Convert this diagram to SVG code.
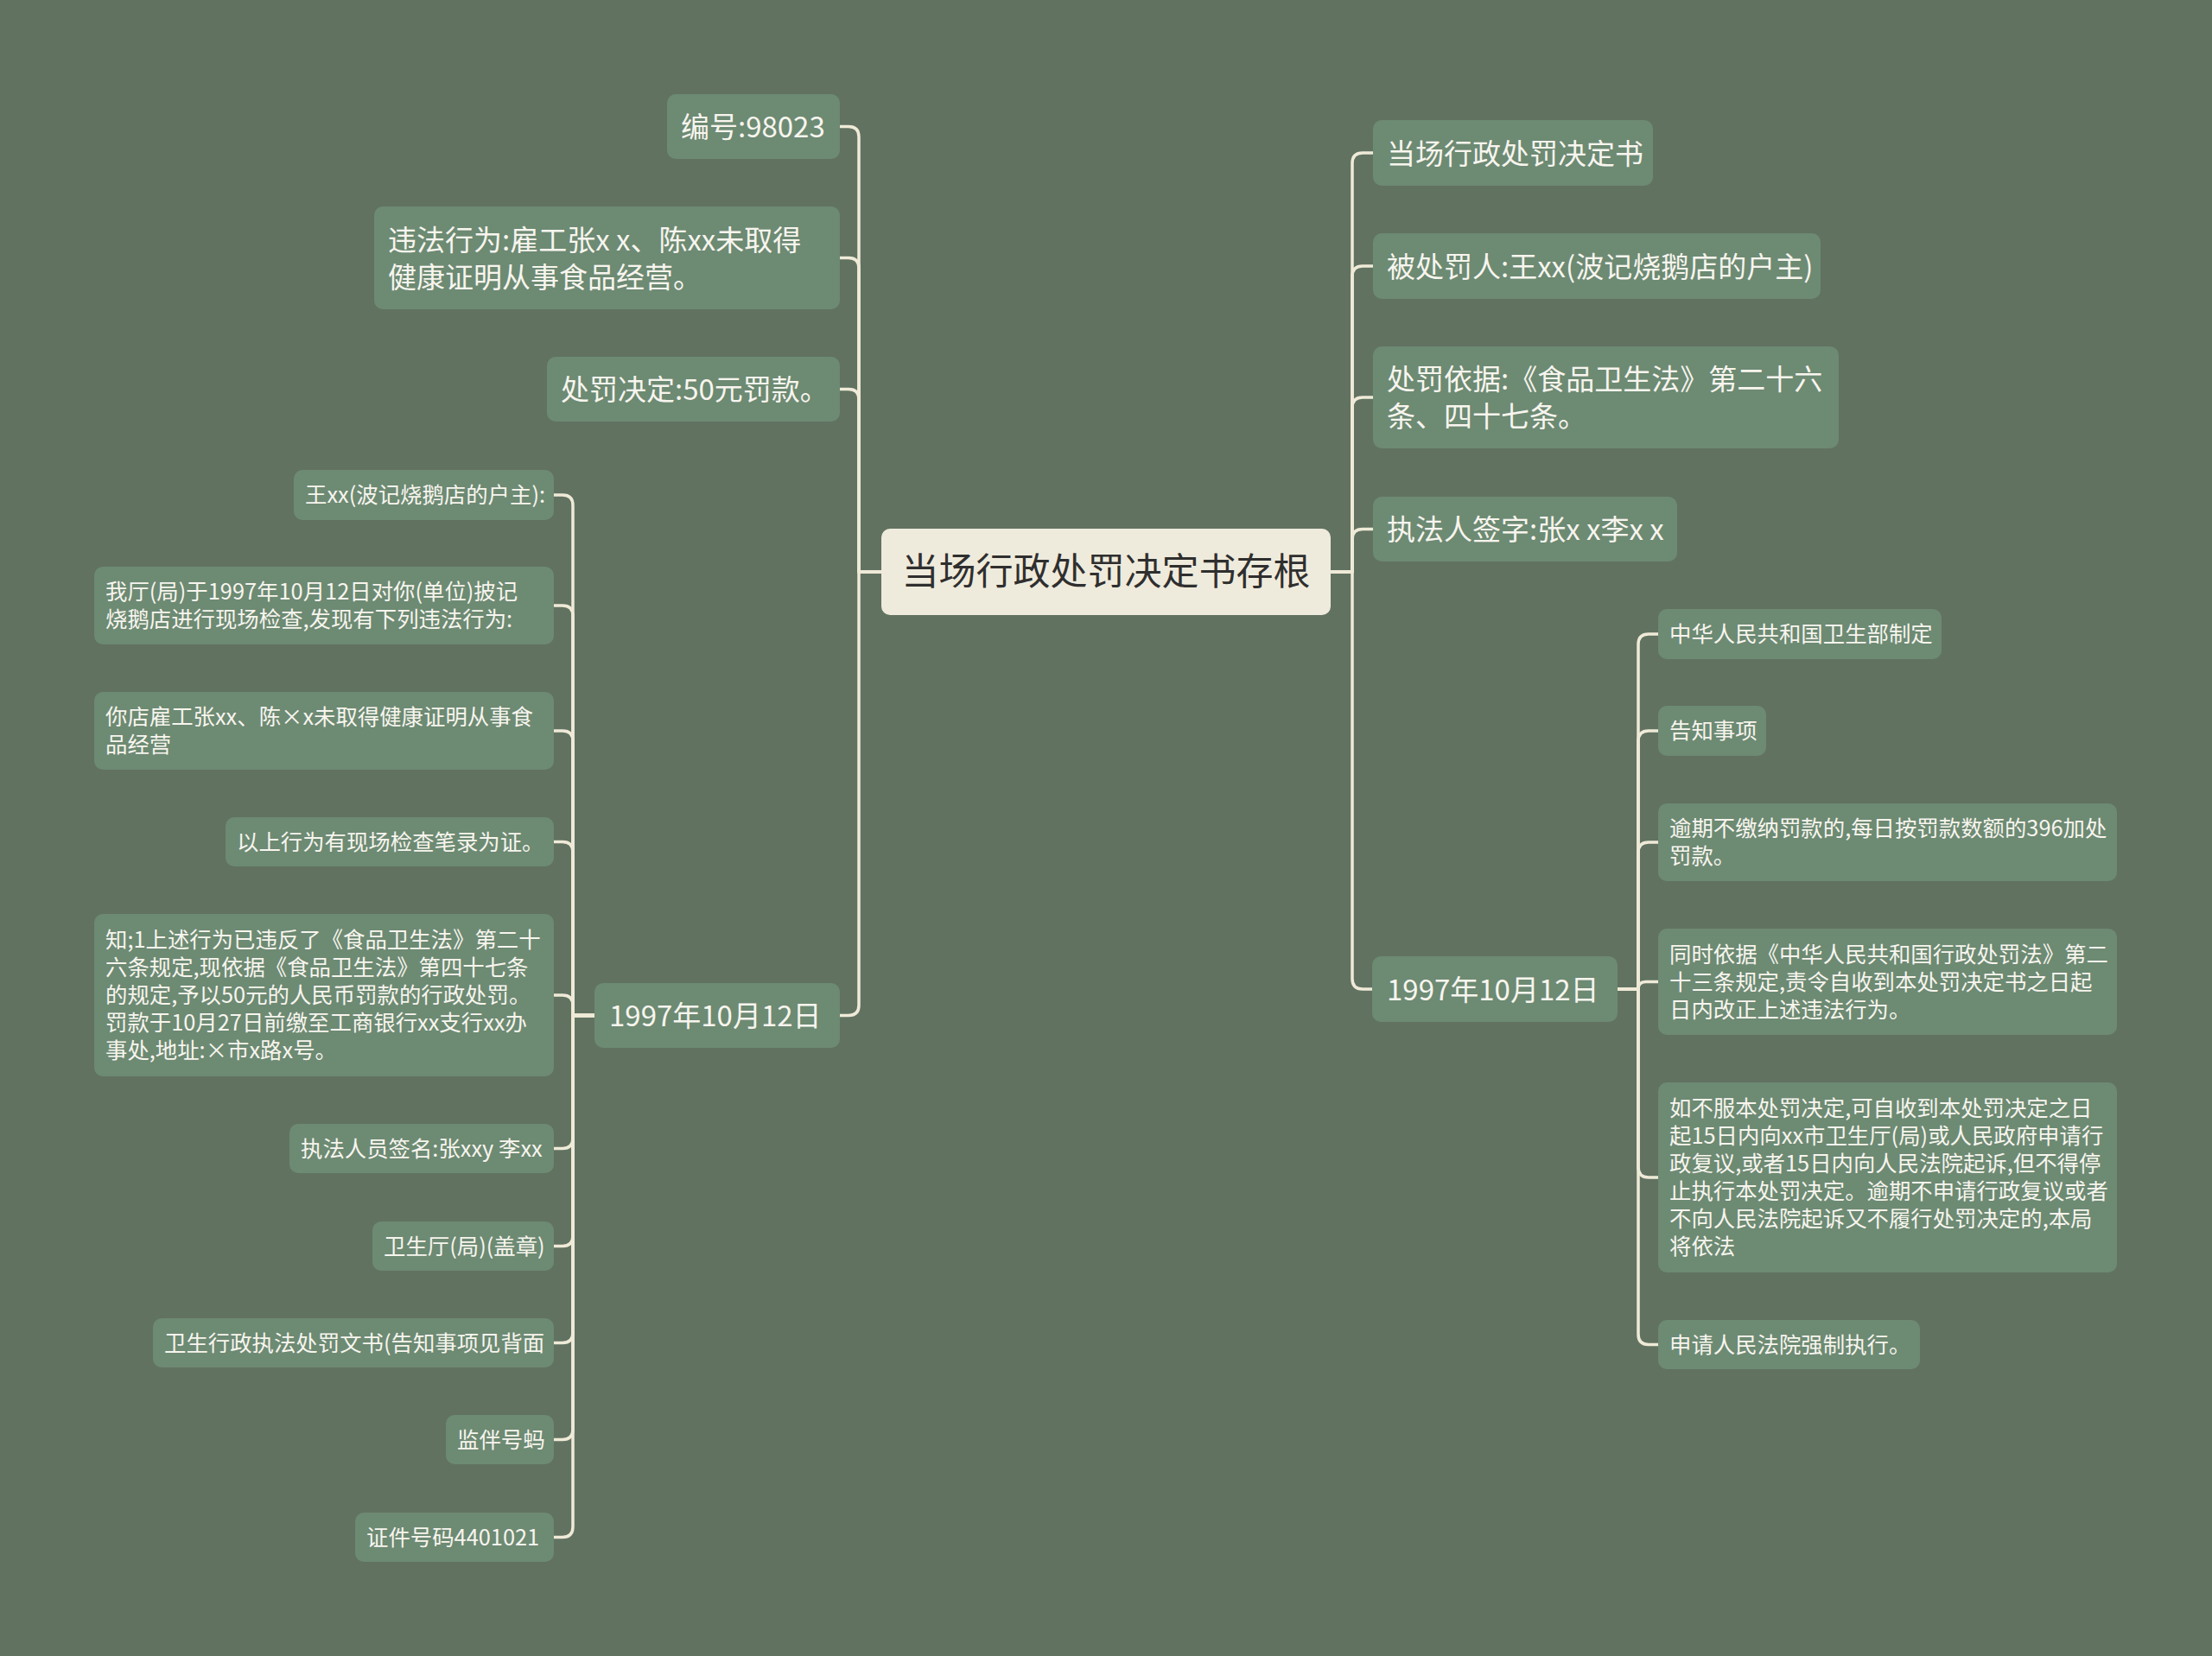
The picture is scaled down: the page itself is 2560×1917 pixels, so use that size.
<svg xmlns="http://www.w3.org/2000/svg" width="2560" height="1917" viewBox="0 0 2560 1917">
<style>
.bg{fill:#617261}
.n{fill:#6d8a73}
.c{fill:#efebdc}
.e{fill:none;stroke:#efead7;stroke-width:3.5;stroke-linejoin:round;stroke-linecap:round}
text{font-family:"Noto Sans CJK SC","Noto Sans",sans-serif;fill:#f7f5ee}
.t1{font-size:33px}
.t2{font-size:25.4px}
.tc{font-size:43px;fill:#2f2f2f;text-anchor:middle}
</style>
<rect class="bg" x="0" y="0" width="2560" height="1917"/>
<g id="connectors">
<path class="e" d="M1020,662 H994 V158.5 Q994,146.5 982,146.5 H972"/>
<path class="e" d="M1020,662 H994 V310.5 Q994,298.5 982,298.5 H972"/>
<path class="e" d="M1020,662 H994 V462.5 Q994,450.5 982,450.5 H972"/>
<path class="e" d="M1020,662 H994 V1163.5 Q994,1175.5 982,1175.5 H972"/>
<path class="e" d="M1540,662 H1565 V189 Q1565,177 1577,177 H1589"/>
<path class="e" d="M1540,662 H1565 V320 Q1565,308 1577,308 H1589"/>
<path class="e" d="M1540,662 H1565 V472 Q1565,460 1577,460 H1589"/>
<path class="e" d="M1540,662 H1565 V624.5 Q1565,612.5 1577,612.5 H1589"/>
<path class="e" d="M1540,662 H1565 V1133 Q1565,1145 1577,1145 H1588"/>
<path class="e" d="M688,1175.5 H663 V585 Q663,573 651,573 H641"/>
<path class="e" d="M688,1175.5 H663 V713 Q663,701 651,701 H641"/>
<path class="e" d="M688,1175.5 H663 V858 Q663,846 651,846 H641"/>
<path class="e" d="M688,1175.5 H663 V986.5 Q663,974.5 651,974.5 H641"/>
<path class="e" d="M688,1175.5 H663 V1164 Q663,1152 651,1152 H641"/>
<path class="e" d="M688,1175.5 H663 V1317.5 Q663,1329.5 651,1329.5 H641"/>
<path class="e" d="M688,1175.5 H663 V1430.5 Q663,1442.5 651,1442.5 H641"/>
<path class="e" d="M688,1175.5 H663 V1542.5 Q663,1554.5 651,1554.5 H641"/>
<path class="e" d="M688,1175.5 H663 V1654.5 Q663,1666.5 651,1666.5 H641"/>
<path class="e" d="M688,1175.5 H663 V1767.5 Q663,1779.5 651,1779.5 H641"/>
<path class="e" d="M1872,1145 H1896 V746 Q1896,734 1908,734 H1919"/>
<path class="e" d="M1872,1145 H1896 V858 Q1896,846 1908,846 H1919"/>
<path class="e" d="M1872,1145 H1896 V987 Q1896,975 1908,975 H1919"/>
<path class="e" d="M1872,1145 H1896 V1145 Q1896,1136.5 1904.5,1136.5 H1919"/>
<path class="e" d="M1872,1145 H1896 V1351 Q1896,1363 1908,1363 H1919"/>
<path class="e" d="M1872,1145 H1896 V1544.5 Q1896,1556.5 1908,1556.5 H1919"/>
</g>
<g id="root"><rect class="c" x="1020" y="612" width="520" height="100" rx="10"/><text class="tc" x="1280" y="677">当场行政处罚决定书存根</text></g>
<g id="l1"><rect class="n" x="772" y="109" width="200" height="75" rx="10"/><text class="t1" x="788" y="159">编号:98023</text></g>
<g id="l2"><rect class="n" x="433" y="239" width="539" height="119" rx="10"/><text class="t1" x="449" y="289.5">违法行为:雇工张x x、陈xx未取得</text><text class="t1" x="449" y="332.5">健康证明从事食品经营。</text></g>
<g id="l3"><rect class="n" x="633" y="413" width="339" height="75" rx="10"/><text class="t1" x="649" y="463">处罚决定:50元罚款。</text></g>
<g id="l4"><rect class="n" x="688" y="1138" width="284" height="75" rx="10"/><text class="t1" x="705" y="1188">1997年10月12日</text></g>
<g id="r1"><rect class="n" x="1589" y="139" width="324" height="76" rx="10"/><text class="t1" x="1605" y="189.5">当场行政处罚决定书</text></g>
<g id="r2"><rect class="n" x="1589" y="270" width="518" height="76" rx="10"/><text class="t1" x="1605" y="320.5">被处罚人:王xx(波记烧鹅店的户主)</text></g>
<g id="r3"><rect class="n" x="1589" y="401" width="539" height="118" rx="10"/><text class="t1" x="1605" y="451">处罚依据:《食品卫生法》第二十六</text><text class="t1" x="1605" y="494">条、四十七条。</text></g>
<g id="r4"><rect class="n" x="1589" y="575" width="352" height="75" rx="10"/><text class="t1" x="1605" y="625">执法人签字:张x x李x x</text></g>
<g id="r5"><rect class="n" x="1588" y="1107" width="284" height="76" rx="10"/><text class="t1" x="1605" y="1157.5">1997年10月12日</text></g>
<g id="la"><rect class="n" x="340" y="544" width="301" height="58" rx="10"/><text class="t2" x="353" y="582">王xx(波记烧鹅店的户主):</text></g>
<g id="lb"><rect class="n" x="109" y="656" width="532" height="90" rx="10"/><text class="t2" x="122" y="694">我厅(局)于1997年10月12日对你(单位)披记</text><text class="t2" x="122" y="726">烧鹅店进行现场检查,发现有下列违法行为:</text></g>
<g id="lc"><rect class="n" x="109" y="801" width="532" height="90" rx="10"/><text class="t2" x="122" y="839">你店雇工张xx、陈×x未取得健康证明从事食</text><text class="t2" x="122" y="871">品经营</text></g>
<g id="ld"><rect class="n" x="261" y="946" width="380" height="57" rx="10"/><text class="t2" x="274" y="983.5">以上行为有现场检查笔录为证。</text></g>
<g id="le"><rect class="n" x="109" y="1058" width="532" height="188" rx="10"/><text class="t2" x="122" y="1097">知;1上述行为已违反了《食品卫生法》第二十</text><text class="t2" x="122" y="1129">六条规定,现依据《食品卫生法》第四十七条</text><text class="t2" x="122" y="1161">的规定,予以50元的人民币罚款的行政处罚。</text><text class="t2" x="122" y="1193">罚款于10月27日前缴至工商银行xx支行xx办</text><text class="t2" x="122" y="1225">事处,地址:×市x路x号。</text></g>
<g id="lf"><rect class="n" x="335" y="1301" width="306" height="57" rx="10"/><text class="t2" x="348" y="1338.5">执法人员签名:张xxy 李xx</text></g>
<g id="lg"><rect class="n" x="431" y="1414" width="210" height="57" rx="10"/><text class="t2" x="444" y="1451.5">卫生厅(局)(盖章)</text></g>
<g id="lh"><rect class="n" x="177" y="1526" width="464" height="57" rx="10"/><text class="t2" x="190" y="1563.5">卫生行政执法处罚文书(告知事项见背面</text></g>
<g id="li"><rect class="n" x="516" y="1638" width="125" height="57" rx="10"/><text class="t2" x="529" y="1675.5">监伴号蚂</text></g>
<g id="lj"><rect class="n" x="411" y="1751" width="230" height="57" rx="10"/><text class="t2" x="424" y="1788.5">证件号码4401021</text></g>
<g id="s1"><rect class="n" x="1919" y="705" width="328" height="58" rx="10"/><text class="t2" x="1932" y="743">中华人民共和国卫生部制定</text></g>
<g id="s2"><rect class="n" x="1919" y="817" width="125" height="58" rx="10"/><text class="t2" x="1932" y="855">告知事项</text></g>
<g id="s3"><rect class="n" x="1919" y="930" width="531" height="90" rx="10"/><text class="t2" x="1932" y="968">逾期不缴纳罚款的,每日按罚款数额的396加处</text><text class="t2" x="1932" y="1000">罚款。</text></g>
<g id="s4"><rect class="n" x="1919" y="1075" width="531" height="123" rx="10"/><text class="t2" x="1932" y="1113.5">同时依据《中华人民共和国行政处罚法》第二</text><text class="t2" x="1932" y="1145.5">十三条规定,责令自收到本处罚决定书之日起</text><text class="t2" x="1932" y="1177.5">日内改正上述违法行为。</text></g>
<g id="s5"><rect class="n" x="1919" y="1253" width="531" height="220" rx="10"/><text class="t2" x="1932" y="1292">如不服本处罚决定,可自收到本处罚决定之日</text><text class="t2" x="1932" y="1324">起15日内向xx市卫生厅(局)或人民政府申请行</text><text class="t2" x="1932" y="1356">政复议,或者15日内向人民法院起诉,但不得停</text><text class="t2" x="1932" y="1388">止执行本处罚决定。逾期不申请行政复议或者</text><text class="t2" x="1932" y="1420">不向人民法院起诉又不履行处罚决定的,本局</text><text class="t2" x="1932" y="1452">将依法</text></g>
<g id="s6"><rect class="n" x="1919" y="1528" width="303" height="57" rx="10"/><text class="t2" x="1932" y="1565.5">申请人民法院强制执行。</text></g>
</svg>
